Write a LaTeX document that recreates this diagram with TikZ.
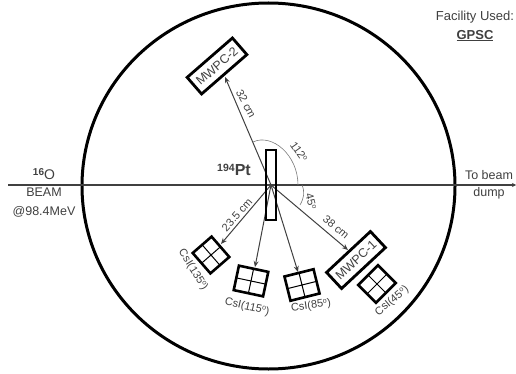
\documentclass[tikz,border=0pt]{standalone}
\usepackage{fontspec}
\setmainfont{Liberation Sans}
\usetikzlibrary{arrows.meta,shapes.geometric}
\definecolor{ink}{gray}{0.25}
\newcommand{\degsup}{\raisebox{3.5pt}{\fontsize{7}{8}\selectfont o}}
\tikzset{
  every node/.style={inner sep=0pt,outer sep=0pt,text=ink,font=\fontsize{10}{11.5}\selectfont},
  arrowline/.style={draw=ink,line width=1pt,-{Stealth[length=6pt,width=5pt]}},
  heavybox/.style={draw=black,line width=2.8pt,fill=white,minimum width=#1,text=ink},
  csibox/.style={draw=black,line width=2.6pt,fill=white,minimum width=#1,minimum height=25pt},
  small/.style={font=\fontsize{11}{12}\selectfont},
  arcline/.style={draw=ink!70,line width=0.6pt},
  mwpc/.style={font=\fontsize{12.5}{13}\selectfont},
}
\newcommand{\csi}[4]{%
  \node[csibox=#4,rotate=#3] (#1) at (#2) {};
  \draw[black,line width=1pt] (#1.north) -- (#1.south) (#1.west) -- (#1.east);
}
\begin{document}
\begin{tikzpicture}[x=1pt,y=-1pt]
\useasboundingbox (0,0) rectangle (516,374);
\node[draw=black,line width=3pt,ellipse,minimum width=373pt,minimum height=366pt] (ring) at (268.5,186) {};
\coordinate (beamin) at (8,185);
\coordinate (beamout) at (516,185);
\draw[draw=ink,line width=1.1pt,-{Stealth[length=4pt,width=4pt]}] (beamin) -- (beamout);
\coordinate (c) at (271,185);
% detectors
\node[heavybox=60pt,minimum height=22pt,rotate=41] (m2) at (217,66) {};
\node[rotate=41,mwpc] (m2t) at (217,66) {MWPC-2};
\node[heavybox=60pt,minimum height=22pt,rotate=43] (m1) at (356,260) {};
\node[rotate=43,mwpc] (m1t) at (356,260) {MWPC-1};
\csi{a}{211,255}{-49}{27pt}
\csi{b}{251,281}{-12}{30pt}
\csi{d}{302,285}{14}{30pt}
\csi{e}{377,284}{45}{28pt}
% connectors
\coordinate (e2) at (225,77);
\coordinate (e1) at (348,250);
\coordinate (ea) at (221,244);
\coordinate (eb) at (255,267);
\coordinate (ed) at (298,272);
\draw[arrowline] (c) -- (e2);
\draw[arrowline] (c) -- (e1);
\draw[arrowline] (c) -- (ea);
\draw[arrowline] (c) -- (eb);
\draw[arrowline] (c) -- (ed);
% target
\node[draw=black,line width=2.4pt,minimum width=10pt,minimum height=70pt] (t) at (271,185) {};
% arcs
\coordinate (a1) at (253,142);
\coordinate (a2) at (298,185);
\coordinate (a3) at (302,185);
\coordinate (a4) at (300,205);
\draw[arcline] (a1) .. controls (272,133) and (298,155) .. (a2);
\draw[arcline] (a3) .. controls (305,192) and (304,198) .. (a4);
% labels
\node[rotate=-62,small] (l32) at (246,104) {32 cm};
\node[rotate=-55,small] (l112) at (299,152) {112\degsup};
\node[rotate=-75,small] (l45) at (311,201) {45\degsup};
\node[rotate=-40,small] (l38) at (336,227) {38 cm};
\node[rotate=48,small] (l235) at (237,215) {23.5 cm};
\node[font=\bfseries\fontsize{16}{17}\selectfont] (pt) at (234,170) {\raisebox{4pt}{\fontsize{10.5}{11}\selectfont 194}Pt};
\node[font=\fontsize{14}{15}\selectfont] (o) at (44,174) {\raisebox{4pt}{\bfseries\fontsize{10}{11}\selectfont 16}O};
\node[align=center,font=\fontsize{12.5}{19}\selectfont] (beam) at (44,203) {BEAM\\@98.4MeV};
\node[align=center,font=\fontsize{12.5}{17}\selectfont] (dump) at (489,185) {To beam\\dump};
\node[align=center,font=\fontsize{13}{19}\selectfont] (fac) at (475,26) {Facility Used:\\\textbf{\underline{GPSC}}};
\node[rotate=-58,small] (ca) at (193,270) {CsI(135\degsup)};
\node[rotate=-13,small] (cb) at (247,307) {CsI(115\degsup)};
\node[rotate=8,small] (cd) at (311,306) {CsI(85\degsup)};
\node[rotate=40,small] (ce) at (392,301) {CsI(45\degsup)};
\end{tikzpicture}
\end{document}
